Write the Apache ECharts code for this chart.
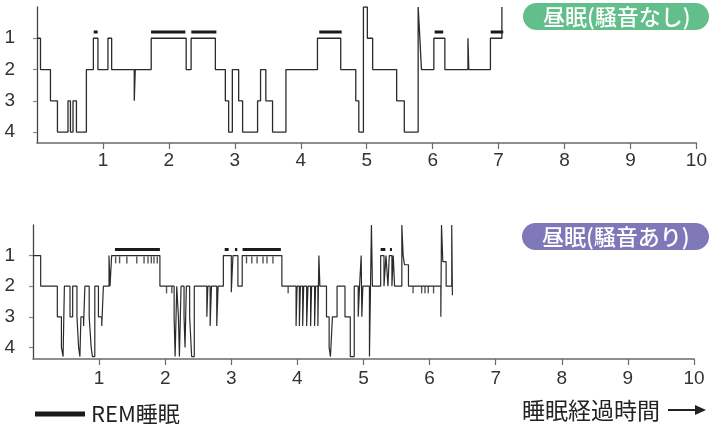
<!DOCTYPE html>
<html>
<head>
<meta charset="utf-8">
<script src="https://cdn.jsdelivr.net/npm/echarts@6/dist/echarts.min.js"></script>
<style>
  html, body { margin: 0; padding: 0; background: #fff; }
  #chart { width: 710px; height: 424px; }
</style>
</head>
<body>
<div id="chart"></div>
<script>
// Axis tick values
const hourTicks = [1, 2, 3, 4, 5, 6, 7, 8, 9, 10];
const stageTicks = [1, 2, 3, 4];

// Nap without noise: time (h) at which each stage begins, and the stage (0 = awake)
const quietTimes  = [0, 0.053, 0.204, 0.310, 0.470, 0.507, 0.546, 0.598, 0.749, 0.855, 0.924, 1.076, 1.132, 1.475, 1.49, 1.732, 2.262, 2.337, 2.705, 2.856, 2.906, 2.962, 3.058, 3.118, 3.345, 3.39, 3.47, 3.572, 3.775, 4.253, 4.606, 4.834, 4.88, 4.95, 5.01, 5.09, 5.454, 5.57, 5.78, 5.806, 5.83, 6.018, 6.185, 6.535, 6.548, 6.876, 7.05];
const quietStages = [1, 2, 3, 4, 3, 4, 3, 4, 2, 1, 2, 1, 2, 3, 2, 1, 2, 1, 2, 3, 4, 2, 3, 4, 3, 2, 3, 4, 2, 1, 2, 3, 4, 0, 1, 2, 3, 4, 0, 1, 2, 1, 2, 1, 2, 1, 0];
const quietRemStart = [0.86, 1.73, 2.34, 4.28, 6.03, 6.88];
const quietRemEnd   = [0.92, 2.25, 2.72, 4.62, 6.16, 7.07];

// Nap with noise
const noiseTimes  = [0, 0.116, 0.368, 0.43, 0.455, 0.475, 0.56, 0.6, 0.665, 0.69, 0.71, 0.725, 0.765, 0.785, 0.85, 0.88, 0.9, 0.935, 0.99, 1.04, 1.065, 1.15, 1.165, 1.19, 1.92, 2.135, 2.15, 2.175, 2.2, 2.215, 2.24, 2.285, 2.3, 2.32, 2.37, 2.4, 2.44, 2.63, 2.645, 2.68, 2.7, 2.78, 2.8, 2.88, 3.0, 3.025, 3.1, 3.165, 3.765, 3.98, 3.995, 4.03, 4.045, 4.08, 4.095, 4.14, 4.16, 4.2, 4.215, 4.26, 4.275, 4.31, 4.325, 4.34, 4.44, 4.48, 4.5, 4.53, 4.6, 4.72, 4.8, 4.86, 4.92, 4.94, 4.965, 4.975, 4.99, 5.09, 5.12, 5.135, 5.26, 5.31, 5.34, 5.37, 5.39, 5.43, 5.45, 5.47, 5.58, 5.6, 5.62, 5.68, 6.17, 6.18, 6.2, 6.25, 6.335, 6.345];
const noiseStages = [1, 2, 3, 4, 4.3, 2, 3, 2, 3, 4, 4.3, 3, 3.3, 2, 3, 4, 4.3, 2, 3, 3.3, 2, 1, 2, 1, 2, 3, 4.3, 2, 3, 4.3, 2, 3, 4, 2, 3, 4.3, 2, 3, 2, 3.3, 2, 3.3, 2, 1, 2.2, 1, 2, 1, 2, 3.3, 2, 3.3, 2, 3.3, 2, 3.3, 2, 3.3, 2, 3.3, 2, 3.3, 1, 2, 3, 4, 4.3, 3, 2, 3, 4.3, 2, 3, 2, 1, 3, 2, 4.3, 0, 2, 1, 2, 1, 2, 1, 2, 1, 2, 0, 1, 1.3, 2, 3, 0, 1.2, 2, 0, 2.3];
const noiseRemStart = [1.24, 2.90, 3.055, 3.17, 5.26, 5.40];
const noiseRemEnd   = [1.92, 2.96, 3.09, 3.75, 5.33, 5.43];
// Brief arousal marks just below a plateau
const noiseBriefTimes  = [1.25, 1.31, 1.42, 1.57, 1.68, 1.74, 1.79, 1.83, 1.88, 3.23, 3.31, 3.39, 3.48, 3.54, 3.63, 2.02, 2.10, 3.86, 5.75, 5.88, 5.93, 5.98, 6.06];
const noiseBriefLevels = [1.14, 1.14, 1.14, 1.14, 1.14, 1.14, 1.14, 1.14, 1.14, 1.14, 1.14, 1.14, 1.14, 1.14, 1.14, 2.12, 2.12, 2.12, 2.12, 2.12, 2.12, 2.12, 2.12];

const REM_LEVEL = 0.8;

const pairs = (xs, ys) => xs.map((x, i) => [x, ys[i]]);
function remSegments(starts, ends) {
  const out = [];
  starts.forEach((s, i) => {
    out.push([s, REM_LEVEL], [ends[i], REM_LEVEL], [ends[i], '-']);
  });
  return out;
}

const INK = '#2a2a2a';
const NUM_FONT = '"Liberation Sans", Arial, sans-serif';
const JP_FONT = '"Noto Sans CJK JP", sans-serif';

function xAxisDef(gridIndex, margin) {
  return {
    type: 'value', gridIndex, min: 0, max: 10,
    axisLine: { show: true, onZero: false, lineStyle: { color: '#6a6a6a', width: 1.5 } },
    axisTick: { show: true, customValues: hourTicks, length: 6, lineStyle: { color: '#6a6a6a', width: 1.2 } },
    axisLabel: { customValues: hourTicks, color: '#333', fontSize: 19, fontFamily: NUM_FONT, margin },
    splitLine: { show: false }
  };
}
function yAxisDef(gridIndex, max, margin) {
  return {
    type: 'value', gridIndex, inverse: true, min: 0, max,
    axisLine: { show: true, onZero: false, lineStyle: { color: '#444', width: 1.3 } },
    axisTick: { show: true, customValues: stageTicks, length: 4, lineStyle: { color: '#888', width: 1.2 } },
    axisLabel: { customValues: stageTicks, color: '#333', fontSize: 19, fontFamily: NUM_FONT, margin },
    splitLine: { show: false }
  };
}

const chart = echarts.init(document.getElementById('chart'), null, { renderer: 'canvas' });
chart.setOption({
  animation: false,
  backgroundColor: '#fff',
  grid: [
    { left: 37, top: 7, width: 661, height: 136 },
    { left: 33, top: 225, width: 661, height: 134 }
  ],
  xAxis: [xAxisDef(0, 8), xAxisDef(1, 10)],
  yAxis: [yAxisDef(0, 4.35, 22), yAxisDef(1, 4.38, 18)],
  legend: {
    data: [{ name: 'REM睡眠', icon: 'rect' }],
    left: 30, top: 398,
    itemWidth: 50, itemHeight: 5, itemGap: 6,
    textStyle: { color: '#222', fontSize: 22, fontFamily: JP_FONT, padding: [0, 0, 0, 1] },
    selectedMode: false
  },
  series: [
    {
      name: '昼眠(騒音なし)', type: 'line', step: 'end', xAxisIndex: 0, yAxisIndex: 0,
      data: pairs(quietTimes, quietStages), symbol: 'none',
      lineStyle: { color: INK, width: 1.3 }, silent: true
    },
    {
      name: 'REM睡眠', type: 'line', xAxisIndex: 0, yAxisIndex: 0,
      data: remSegments(quietRemStart, quietRemEnd), symbol: 'none', connectNulls: false,
      itemStyle: { color: '#1a1a1a' },
      lineStyle: { color: '#1a1a1a', width: 3 }, silent: true
    },
    {
      name: '昼眠(騒音あり)', type: 'line', step: 'end', xAxisIndex: 1, yAxisIndex: 1,
      data: pairs(noiseTimes, noiseStages), symbol: 'none',
      lineStyle: { color: INK, width: 1.2 }, silent: true
    },
    {
      name: 'REM睡眠', type: 'line', xAxisIndex: 1, yAxisIndex: 1,
      data: remSegments(noiseRemStart, noiseRemEnd), symbol: 'none', connectNulls: false,
      itemStyle: { color: '#1a1a1a' },
      lineStyle: { color: '#1a1a1a', width: 3 }, silent: true
    },
    {
      name: 'brief', type: 'scatter', xAxisIndex: 1, yAxisIndex: 1,
      data: pairs(noiseBriefTimes, noiseBriefLevels),
      symbol: 'rect', symbolSize: [1.4, 7],
      itemStyle: { color: INK }, silent: true
    }
  ],
  graphic: [
    {
      type: 'group', children: [
        { type: 'rect', shape: { x: 523, y: 3, width: 186, height: 27, r: 13.5 }, style: { fill: '#62bf8b' } },
        { type: 'text', style: { text: '昼眠(騒音なし)', x: 543, y: 17, verticalAlign: 'middle', fill: '#fff', font: '500 22px "Noto Sans CJK JP"' } }
      ]
    },
    {
      type: 'group', children: [
        { type: 'rect', shape: { x: 522, y: 223, width: 187, height: 27, r: 13.5 }, style: { fill: '#7f78b8' } },
        { type: 'text', style: { text: '昼眠(騒音あり)', x: 542, y: 237, verticalAlign: 'middle', fill: '#fff', font: '500 22px "Noto Sans CJK JP"' } }
      ]
    },
    { type: 'text', style: { text: '睡眠経過時間', x: 660, y: 410, align: 'right', verticalAlign: 'middle', fill: '#222', font: '23px "Noto Sans CJK JP"' } },
    { type: 'line', shape: { x1: 668, y1: 410, x2: 698, y2: 410 }, style: { stroke: '#222', lineWidth: 2 } },
    { type: 'polygon', shape: { points: [[695, 405], [706, 410], [695, 415]] }, style: { fill: '#222' } }
  ]
});
</script>
</body>
</html>
